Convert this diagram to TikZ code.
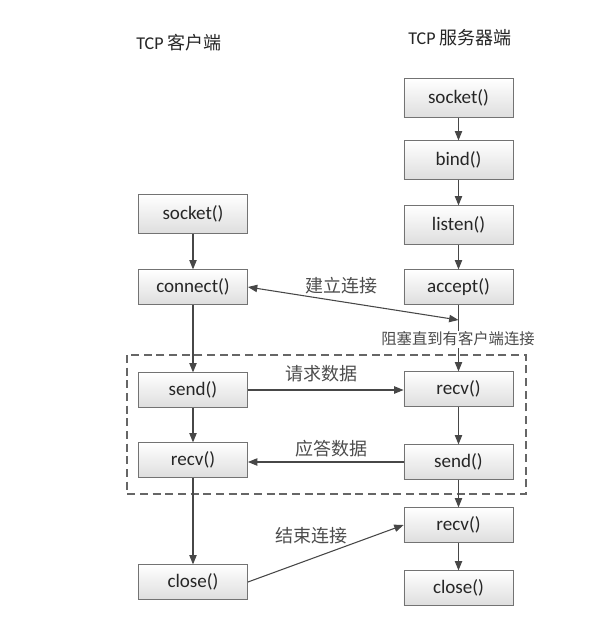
\documentclass[tikz,border=0pt]{standalone}
\usepackage{fontspec}
\setmainfont{Carlito}
\newfontfamily\cjk{Noto Sans CJK SC}
\usetikzlibrary{arrows.meta}
\begin{document}
\begin{tikzpicture}[x=0.75pt,y=-0.75pt, every node/.style={font=\fontsize{13.5}{16}\selectfont,text=black!85},
  box/.style={draw=black!55,top color=white,bottom color=black!13,minimum width=82pt,minimum height=26pt,inner sep=0pt,font=\fontsize{14.3}{17}\selectfont},
  tall/.style={minimum height=29pt},
  lbl/.style={font=\cjk\fontsize{13.5}{16}\selectfont,text=black!70,inner sep=1pt},
  arr/.style={-{Triangle[length=7pt,width=5.5pt]},draw=black!72,line width=0.8pt}]
\useasboundingbox (0,0) rectangle (605,628);
\node (cli) at (179,43) {TCP {\cjk 客户端}};
\node (srv) at (460,38) {TCP {\cjk 服务器端}};
\node[box,tall] (csock) at (193,214) {socket()};
\node[box] (cconn) at (193,287) {connect()};
\node[box] (csend) at (193,390) {send()};
\node[box] (crecv) at (193,460) {recv()};
\node[box] (cclose) at (193,582) {close()};
\node[box,tall] (ssock) at (458.5,98) {socket()};
\node[box,tall] (sbind) at (458.5,160) {bind()};
\node[box,tall] (slist) at (458.5,225) {listen()};
\node[box] (sacc) at (458.5,287) {accept()};
\node[box] (srecv) at (458.5,389) {recv()};
\node[box] (ssend) at (458.5,462) {send()};
\node[box] (srecv2) at (458.5,525) {recv()};
\node[box] (sclose) at (458.5,588) {close()};
\coordinate (blk) at (458.5,320);
\draw[black!60,line width=0.8pt,dash pattern=on 6pt off 3.5pt] (127,355) rectangle (526,494);
\draw[arr] (csock) -- (cconn);
\draw[arr] (cconn) -- (csend);
\draw[arr] (csend) -- (crecv);
\draw[arr] (crecv) -- (cclose);
\draw[arr] (ssock) -- (sbind);
\draw[arr] (sbind) -- (slist);
\draw[arr] (slist) -- (sacc);
\draw[arr] (sacc) -- (srecv);
\draw[arr] (srecv) -- (ssend);
\draw[arr] (ssend) -- (srecv2);
\draw[arr] (srecv2) -- (sclose);
\draw[arr,{Triangle[length=7pt,width=5.5pt]}-{Triangle[length=7pt,width=5.5pt]}] (cconn.east) -- (blk);
\draw[arr] (csend) -- (srecv.west |- csend);
\draw[arr] (ssend) -- (crecv.east |- ssend);
\draw[arr] (cclose.east) -- (srecv2.west);
\node[lbl] (lconn) at (341,286) {建立连接};
\node[lbl,fill=white,font=\cjk\fontsize{11.5}{14}\selectfont] (lblk) at (458,339) {阻塞直到有客户端连接};
\node[lbl] (lreq) at (321,374) {请求数据};
\node[lbl] (lans) at (331,449) {应答数据};
\node[lbl] (lend) at (311,536) {结束连接};
\end{tikzpicture}
\end{document}
